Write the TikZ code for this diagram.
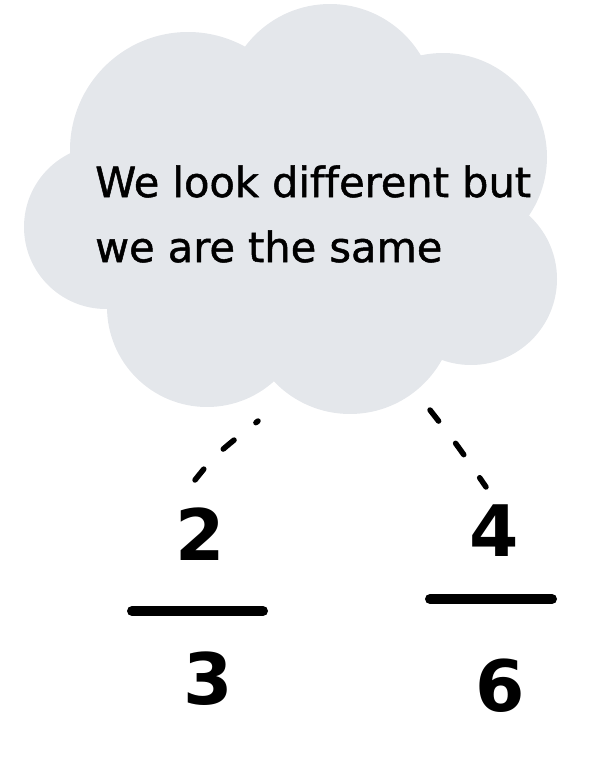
\documentclass[tikz,border=0pt]{standalone}
\usepackage{fontspec}
\setmainfont{DejaVu Sans}
\newfontfamily\sayfont[FakeBold=1.2,Ligatures={NoCommon}]{DejaVu Sans}
\definecolor{cloudgray}{RGB}{228,231,235}
\begin{document}
\begin{tikzpicture}[x=1pt,y=-1pt,
  cloudpart/.style={fill=cloudgray,draw=none},
  saying/.style={inner sep=0pt,anchor=base west,font=\sayfont\fontsize{41.5}{49}\selectfont},
  digit/.style={inner sep=0pt,anchor=center,font=\fontsize{71}{80}\selectfont\bfseries},
  fracbar/.style={line width=10pt,line cap=round},
  link/.style={line width=5.5pt,line cap=round,dash pattern=on 14pt off 28pt}]
\useasboundingbox (0,0) rectangle (606,760);
% cloud
\fill[cloudpart] (330,110) circle[radius=106pt];
\fill[cloudpart] (188,150) circle[radius=118pt];
\fill[cloudpart] (443,157) circle[radius=104pt];
\fill[cloudpart] (106,227) circle[radius=82pt];
\fill[cloudpart] (471,279) circle[radius=86pt];
\fill[cloudpart] (207,307) circle[radius=100pt];
\fill[cloudpart] (350,309) circle[radius=105pt];
\fill[cloudpart] (300,230) circle[radius=150pt];
% text
\node[saying] (line1) at (95,197) {We look different but};
\node[saying] (line2) at (95,262) {we are the same};
% fractions
\node[digit] (n2) at (200,534) {2};
\node[digit] (d3) at (208,679) {3};
\node[digit] (n4) at (494,531) {4};
\node[digit] (d6) at (500,686) {6};
\coordinate (barLa) at (132,611);
\coordinate (barLb) at (263,611);
\coordinate (barRa) at (430,599);
\coordinate (barRb) at (552,599);
\draw[fracbar] (barLa) -- (barLb);
\draw[fracbar] (barRa) -- (barRb);
% dashed links
\coordinate (linkLa) at (195,480);
\coordinate (linkLb) at (258,421);
\coordinate (linkRa) at (430,410);
\coordinate (linkRb) at (486,487);
\draw[link] (linkLa) .. controls (215,455) .. (linkLb);
\draw[link] (linkRa) .. controls (458,446) .. (linkRb);
\end{tikzpicture}
\end{document}
